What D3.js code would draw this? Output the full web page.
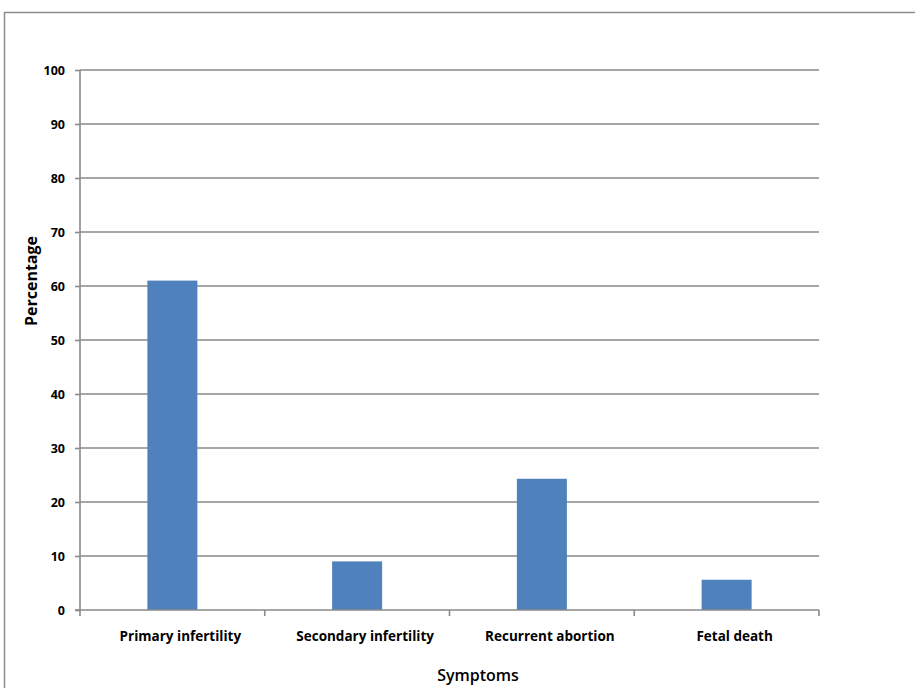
<!DOCTYPE html>
<html>
<head>
<meta charset="utf-8">
<script src="https://cdn.jsdelivr.net/npm/d3@7"></script>
<style>
  html, body { margin: 0; padding: 0; background: #fff; }
  svg { display: block; }
  text { font-family: "Open Sans", Lato, sans-serif; }
</style>
</head>
<body>
<svg id="chart" width="915" height="688"></svg>
<script>
// Share of patients by presenting symptom
const categories = ["Primary infertility", "Secondary infertility", "Recurrent abortion", "Fetal death"];
const values = [61, 9, 24.3, 5.6];
const yTicks = [0, 10, 20, 30, 40, 50, 60, 70, 80, 90, 100];

const svg = d3.select("#chart");
const W = 915, H = 688;
const plot = { left: 80, right: 819, top: 70, bottom: 610 };

// outer chart frame
svg.append("rect")
  .attr("x", 4.5).attr("y", 12.5)
  .attr("width", W + 10).attr("height", H + 10)
  .attr("fill", "#fff").attr("stroke", "#8c8c8c").attr("stroke-width", 1.5);

const x = d3.scaleBand().domain(categories).range([plot.left, plot.right]).paddingInner(0).paddingOuter(0);
const y = d3.scaleLinear().domain([0, 100]).range([plot.bottom, plot.top]);

// horizontal gridlines
svg.append("g").selectAll("line").data(yTicks.filter(d => d > 0)).join("line")
  .attr("x1", plot.left).attr("x2", plot.right)
  .attr("y1", d => y(d)).attr("y2", d => y(d))
  .attr("stroke", "#8a8a8a").attr("stroke-width", 1.6);

// bars
const bw = 50;
svg.append("g").selectAll("rect").data(categories).join("rect")
  .attr("x", d => x(d) + x.bandwidth() / 2 - bw / 2)
  .attr("y", (d, i) => y(values[i]))
  .attr("width", bw)
  .attr("height", (d, i) => y(0) - y(values[i]))
  .attr("fill", "#4f81bd");

// y axis
const yAxis = svg.append("g").attr("transform", `translate(${plot.left},0)`)
  .call(d3.axisLeft(y).tickValues(yTicks).tickSize(5).tickPadding(10).tickFormat(d3.format("d")));
yAxis.select(".domain").attr("stroke", "#8a8a8a").attr("stroke-width", 1.6).attr("d", `M0,${plot.top}V${plot.bottom}`);
yAxis.selectAll(".tick line").attr("stroke", "#8a8a8a").attr("stroke-width", 1.6);
yAxis.selectAll(".tick text").attr("font-size", 12.5).attr("font-weight", "bold").attr("fill", "#000");

// x axis with ticks at category boundaries
const xAxisG = svg.append("g");
xAxisG.append("line")
  .attr("x1", plot.left - 5).attr("x2", plot.right)
  .attr("y1", plot.bottom).attr("y2", plot.bottom)
  .attr("stroke", "#8a8a8a").attr("stroke-width", 1.6);
const bounds = categories.map(c => x(c)).concat([plot.right]);
xAxisG.selectAll("line.tk").data(bounds).join("line").attr("class", "tk")
  .attr("x1", d => d).attr("x2", d => d)
  .attr("y1", plot.bottom).attr("y2", plot.bottom + 6)
  .attr("stroke", "#8a8a8a").attr("stroke-width", 1.6);
xAxisG.selectAll("text").data(categories).join("text")
  .attr("x", d => x(d) + x.bandwidth() / 2 + 8)
  .attr("y", 641)
  .attr("text-anchor", "middle")
  .attr("font-size", 13.5).attr("font-weight", "bold").attr("fill", "#000")
  .text(d => d);

// axis titles
svg.append("text")
  .attr("x", 478).attr("y", 681)
  .attr("text-anchor", "middle")
  .attr("font-size", 16).attr("font-weight", 600).attr("fill", "#000")
  .text("Symptoms");
svg.append("text")
  .attr("transform", "translate(37,281) rotate(-90)")
  .attr("text-anchor", "middle")
  .attr("font-size", 16).attr("font-weight", "bold").attr("fill", "#000")
  .text("Percentage");
</script>
</body>
</html>
